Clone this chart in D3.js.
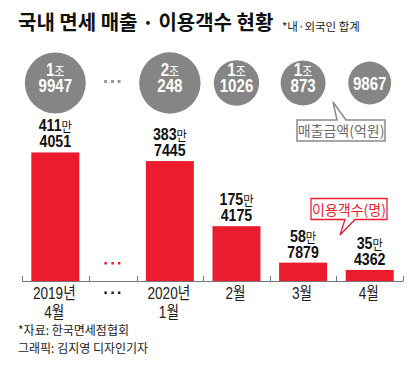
<!DOCTYPE html>
<html><head><meta charset="utf-8">
<script src="https://cdn.jsdelivr.net/npm/d3@7"></script>
<style>
html,body{margin:0;padding:0;background:#fff;}
svg{display:block;}
.nar{font-family:"Liberation Sans","Noto Sans CJK KR",sans-serif;}
.kr{font-family:"Noto Sans CJK KR","Noto Sans",sans-serif;}
</style></head>
<body>
<svg id="c" width="420" height="365"></svg>
<script>
// ---- data ----
const categories = ["2019년|4월", "…", "2020년|1월", "2월", "3월", "4월"];
const visitors = [4114051, null, 3837445, 1754175, 587879, 354362]; // 이용객수(명)
const sales = [19947, null, 20248, 11026, 10873, 9867];              // 매출금액(억원)
const title = "국내 면세 매출 · 이용객수 현황";
const subtitle = "*내·외국인 합계";
const source = "*자료: 한국면세점협회";
const credit = "그래픽: 김지영 디자인기자";

const RED = "#ec1c2e", GRAY = "#858585";
const svg = d3.select("#c");

// condensed text helper
function ctext(x, y, sx) {
  return svg.append("g").attr("transform", `translate(${x},${y}) scale(${sx},1)`)
    .append("text").attr("class","nar").attr("text-anchor","middle");
}

// x layout: gap category is narrower
const weights = categories.map(c => c === "…" ? 0.72 : 1);
const edges = [0]; weights.forEach(w => edges.push(edges[edges.length-1] + w));
const x = d3.scaleLinear().domain([0, edges[edges.length-1]]).range([22, 403]);
const cx = i => x((edges[i] + edges[i+1]) / 2);
const y = d3.scaleLinear().domain([0, 4500000]).range([281, 281 - 0.3125*450]);
const r = d3.scaleSqrt().domain([0, 20248]).range([0, 30.7]);
const barW = 48;

// title
svg.append("text").attr("class","kr").attr("x",18).attr("y",30)
  .attr("font-size",20).attr("font-weight",700).attr("fill","#111").text(title);
svg.append("text").attr("class","kr").attr("x",282).attr("y",31)
  .attr("font-size",11.5).attr("fill","#222").text(subtitle);

// circles
const CY = 83;
const idx = d3.range(categories.length);
idx.forEach(i => {
  if (sales[i] == null) {
    [-7, 0, 6.5].forEach(dx => svg.append("rect").attr("x", cx(i)+dx-1.5).attr("y", CY-3)
      .attr("width",3).attr("height",3).attr("fill","#999"));
    return;
  }
  const v = sales[i];
  svg.append("circle").attr("cx", cx(i)).attr("cy", CY).attr("r", r(v)).attr("fill", GRAY);
  const jo = Math.floor(v/10000), rest = v % 10000;
  if (jo > 0) {
    const t1 = ctext(cx(i), CY-7, 0.84).attr("fill","#fff").attr("font-weight",700).attr("font-size",18);
    t1.append("tspan").text(jo);
    t1.append("tspan").attr("class","kr").attr("font-size",13).attr("font-weight",400).text("조");
    ctext(cx(i), CY+9, 0.84).attr("fill","#fff").attr("font-weight",700).attr("font-size",18).text(rest);
  } else {
    ctext(cx(i), CY+6.5, 0.84).attr("fill","#fff").attr("font-weight",700).attr("font-size",18).text(rest);
  }
});

// bars
idx.forEach(i => {
  if (visitors[i] == null) {
    [-7, 0, 6.5].forEach(dx => svg.append("rect").attr("x", cx(i)+dx-1.2).attr("y", 262)
      .attr("width",2.5).attr("height",2.5).attr("fill",RED));
    return;
  }
  const v = visitors[i];
  svg.append("rect").attr("x", cx(i)-barW/2).attr("y", y(v)).attr("width", barW)
    .attr("height", y(0)-y(v)).attr("fill", RED);
  const man = Math.floor(v/10000), rest = v % 10000;
  const t1 = ctext(cx(i), y(v)-21, 0.86).attr("fill","#111").attr("font-weight",700).attr("font-size",16.5);
  t1.append("tspan").text(man);
  t1.append("tspan").attr("class","kr").attr("font-size",13).attr("font-weight",400).text("만");
  ctext(cx(i), y(v)-5, 0.86).attr("fill","#111").attr("font-weight",700).attr("font-size",16.5).text(rest);
});

// axis
svg.append("line").attr("x1",x(0)).attr("x2",x(edges[edges.length-1])).attr("y1",281.5).attr("y2",281.5)
  .attr("stroke","#777").attr("stroke-width",1);
edges.forEach(e => svg.append("line").attr("x1",Math.round(x(e))+0.5).attr("x2",Math.round(x(e))+0.5)
  .attr("y1",276).attr("y2",281.5).attr("stroke","#777").attr("stroke-width",1));

// x labels
idx.forEach(i => {
  if (categories[i] === "…") {
    [-7, 0, 6.5].forEach(dx => svg.append("rect").attr("x", cx(i)+dx-1.2).attr("y", 291.5)
      .attr("width",2.5).attr("height",2.5).attr("fill","#222"));
    return;
  }
  const lines = categories[i].split("|");
  lines.forEach((l, k) => ctext(cx(i)-1, 299 + k*19, 0.8).attr("fill","#222").attr("font-size",17).text(l));
});

// callout: sales
svg.append("path").attr("d","M297,120 H337 L333,102 L346,120 H385 V141 H297 Z")
  .attr("fill","#fff").attr("stroke","#8a8a8a").attr("stroke-width",1.5);
svg.append("text").attr("class","kr").attr("x",341).attr("y",136).attr("text-anchor","middle")
  .attr("font-size",14).attr("fill","#6a6a6a").text("매출금액(억원)");

// callout: visitors
svg.append("path").attr("d","M311,198.5 H387 V219.5 H355 L340,235 L345,219.5 H311 Z")
  .attr("fill","#fff").attr("stroke",RED).attr("stroke-width",1.3);
svg.append("text").attr("class","kr").attr("x",349).attr("y",214.5).attr("text-anchor","middle")
  .attr("font-size",14).attr("fill",RED).text("이용객수(명)");

// footer
svg.append("text").attr("class","kr").attr("x",18).attr("y",335).attr("font-size",12).attr("fill","#222").text(source);
svg.append("text").attr("class","kr").attr("x",18).attr("y",353).attr("font-size",12).attr("fill","#222").text(credit);
</script>
</body></html>
